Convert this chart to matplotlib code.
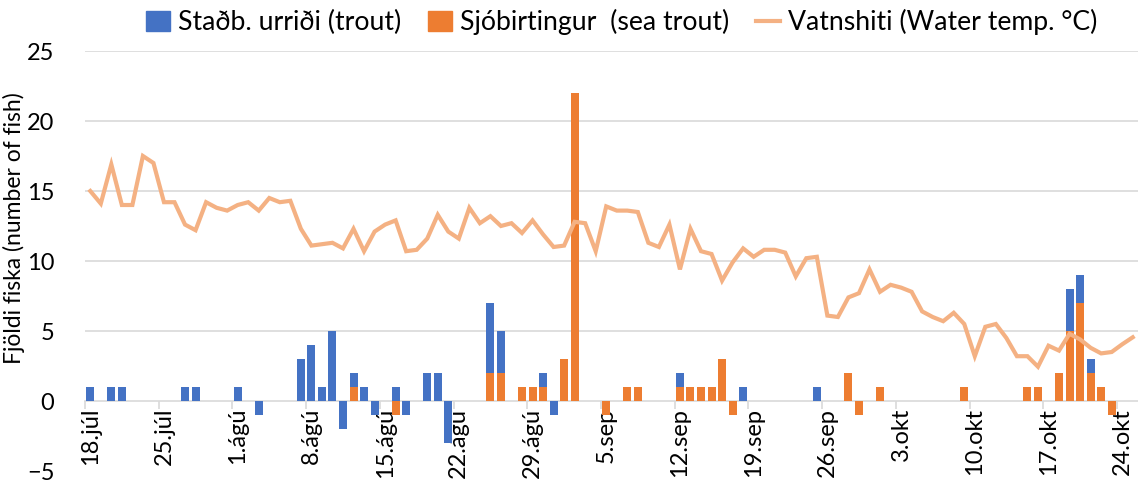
import numpy as np
import matplotlib
matplotlib.use("Agg")
import matplotlib.pyplot as plt
from matplotlib.patches import Patch
from matplotlib.lines import Line2D

plt.rcParams['font.family'] = ['Lato', 'DejaVu Sans']

# daglegar mælingar frá 18.júl til 25.okt (100 dagar)
n_days = 100

# staðbundinn urriði, dagnúmer -> fjöldi
trout = {0: 1, 2: 1, 3: 1, 9: 1, 10: 1, 14: 1, 16: -1, 20: 3, 21: 4, 22: 1,
         23: 5, 24: -2, 25: 1, 26: 1, 27: -1, 29: 1, 30: -1, 32: 2, 33: 2,
         34: -3, 38: 5, 39: 3, 43: 1, 44: -1, 56: 1, 62: 1, 69: 1, 93: 3,
         94: 2, 95: 1}

# sjóbirtingur, dagnúmer -> fjöldi
sea_trout = {25: 1, 29: -1, 38: 2, 39: 2, 41: 1, 42: 1, 43: 1, 45: 3, 46: 22,
             49: -1, 51: 1, 52: 1, 56: 1, 57: 1, 58: 1, 59: 1, 60: 3, 61: -1,
             72: 2, 73: -1, 75: 1, 83: 1, 89: 1, 90: 1, 92: 2, 93: 5, 94: 7,
             95: 2, 96: 1, 97: -1}

# vatnshiti °C
water_temp = [15.0, 14.1, 16.9, 14.0, 14.0, 17.5, 17.0, 14.2, 14.2, 12.6,
              12.2, 14.2, 13.8, 13.6, 14.0, 14.2, 13.6, 14.5, 14.2, 14.3,
              12.3, 11.1, 11.2, 11.3, 10.9, 12.3, 10.7, 12.1, 12.6, 12.9,
              10.7, 10.8, 11.6, 13.3, 12.1, 11.6, 13.8, 12.7, 13.2, 12.5,
              12.7, 12.0, 12.9, 11.9, 11.0, 11.1, 12.8, 12.7, 10.7, 13.9,
              13.6, 13.6, 13.5, 11.3, 11.0, 12.6, 9.4, 12.3, 10.7, 10.5,
              8.6, 9.9, 10.9, 10.3, 10.8, 10.8, 10.6, 8.9, 10.2, 10.3,
              6.1, 6.0, 7.4, 7.7, 9.4, 7.8, 8.3, 8.1, 7.8, 6.4,
              6.0, 5.7, 6.3, 5.5, 3.2, 5.3, 5.5, 4.5, 3.2, 3.2,
              2.45, 3.95, 3.6, 4.8, 4.4, 3.8, 3.4, 3.5, 4.05, 4.55]

date_labels = ['18.júl', '25.júl', '1.ágú', '8.ágú', '15.ágú', '22.ágú',
               '29.ágú', '5.sep', '12.sep', '19.sep', '26.sep', '3.okt',
               '10.okt', '17.okt', '24.okt']

BLUE = '#4472C4'
ORANGE = '#ED7D31'
LINE = '#F4B183'
GRID = '#D9D9D9'

days = np.arange(n_days)
tr = np.zeros(n_days)
st = np.zeros(n_days)
for d, v in trout.items():
    tr[d] = v
for d, v in sea_trout.items():
    st[d] = v

# jákvæð gildi staflast, sjóbirtingur neðst
st_base = np.zeros(n_days)
tr_base = np.where((tr > 0) & (st > 0), st, 0)

fig = plt.figure(figsize=(11.38, 4.91), dpi=100)
ax = fig.add_axes([85 / 1138, 1 - 471 / 491, 1 - 85 / 1138, 420 / 491])

w = 0.76
ax.bar(days, st, w, bottom=st_base, color=ORANGE, zorder=3)
ax.bar(days, tr, w, bottom=tr_base, color=BLUE, zorder=3)
ax.plot(days, water_temp, color=LINE, lw=3.0, zorder=4, solid_joinstyle='miter')

ax.set_xlim(-0.5, n_days - 0.5)
ax.set_ylim(-5, 25)
ax.set_yticks(np.arange(-5, 26, 5))
for y in range(5, 26, 5):
    ax.axhline(y, color=GRID, lw=1.2, zorder=1)

for s in ['top', 'right', 'left']:
    ax.spines[s].set_visible(False)
ax.spines['bottom'].set_position(('data', 0))
ax.spines['bottom'].set_color(GRID)
ax.spines['bottom'].set_linewidth(1.2)
ax.spines['bottom'].set_zorder(2)

label_pos = np.arange(0, n_days, 7)
ax.set_xticks(label_pos)
ax.set_xticklabels(date_labels, rotation=90, fontsize=17)
ax.set_xticks(label_pos - 0.5, minor=True)
ax.tick_params(axis='x', which='major', length=0, pad=5)
ax.tick_params(axis='x', which='minor', length=6, color=GRID, width=1.2)
ax.tick_params(axis='y', length=0, labelsize=17, pad=22)

fig.text(14 / 1138, 1 - 228 / 491, 'Fjöldi fiska (number of fish)',
         rotation=90, ha='center', va='center', fontsize=16.5)

handles = [Patch(color=BLUE), Patch(color=ORANGE),
           Line2D([0], [0], color=LINE, lw=3.0)]
labels = ['Staðb. urriði (trout)', 'Sjóbirtingur  (sea trout)',
          'Vatnshiti (Water temp. °C)']
fig.legend(handles, labels, loc='center', bbox_to_anchor=(0.546, 1 - 22 / 491),
           ncol=3, frameon=False, fontsize=19.2, handlelength=0.9,
           handleheight=0.75, columnspacing=1.0, handletextpad=0.3)

fig.savefig('out.png', dpi=100)
